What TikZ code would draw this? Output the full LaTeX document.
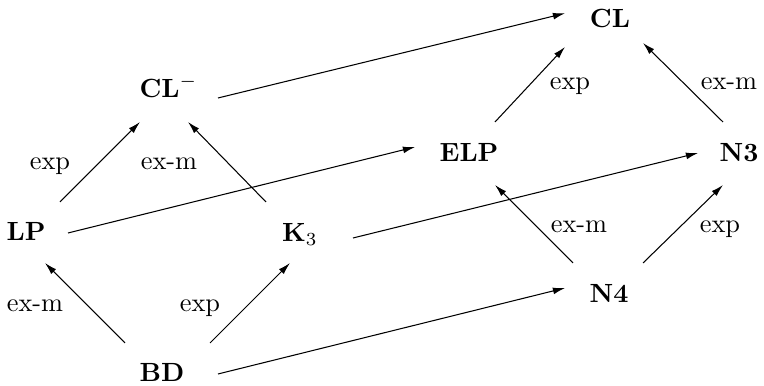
\documentclass[tikz,border=0pt]{standalone}
\usetikzlibrary{arrows.meta}
\begin{document}
\begin{tikzpicture}[x=0.38pt,y=-0.38pt,
  obj/.style={anchor=base,inner sep=0pt,font=\bfseries},
  lab/.style={anchor=base,inner sep=0pt},
  arr/.style={-{Latex[length=4.6pt,width=2.6pt]},line width=0.4pt}]
\useasboundingbox (0,0) rectangle (764,386);
% objects
\node[obj] (CL)  at (610,28)  {CL};
\node[obj] (CLm) at (168.5,98) {$\mathbf{CL}^-$};
\node[obj] (ELP) at (469,162) {ELP};
\node[obj] (N3)  at (739,162) {N3};
\node[obj] (LP)  at (26,241)  {LP};
\node[obj] (K3)  at (300,242) {$\mathbf{K}_3$};
\node[obj] (N4)  at (609,303) {N4};
\node[obj] (BD)  at (162,382) {BD};
% labels
\node[lab] (l1) at (50,170)  {exp};
\node[lab] (l2) at (169,170) {ex-m};
\node[lab] (l3) at (570,90)  {exp};
\node[lab] (l4) at (729,90)  {ex-m};
\node[lab] (l5) at (579,233) {ex-m};
\node[lab] (l6) at (720,233) {exp};
\node[lab] (l7) at (35,312)  {ex-m};
\node[lab] (l8) at (200,312) {exp};
% arrows
\draw[arr] ([shift={(34,-39)}]LP.base) -- ([shift={(-28.5,24)}]CLm.base);
\draw[arr] ([shift={(-34,-40)}]K3.base) -- ([shift={(19.5,24)}]CLm.base);
\draw[arr] ([shift={(49.5,0)}]CLm.base) -- ([shift={(-45,-14.7)}]CL.base);
\draw[arr] ([shift={(42,-8)}]LP.base) -- ([shift={(-54,-15)}]ELP.base);
\draw[arr] ([shift={(26,-40)}]ELP.base) -- ([shift={(-45,19)}]CL.base);
\draw[arr] ([shift={(-16,-40)}]N3.base) -- ([shift={(33,15)}]CL.base);
\draw[arr] ([shift={(53,-4)}]K3.base) -- ([shift={(-41,-9)}]N3.base);
\draw[arr] ([shift={(-36,-40)}]N4.base) -- ([shift={(26,23)}]ELP.base);
\draw[arr] ([shift={(34,-40)}]N4.base) -- ([shift={(-16,23)}]N3.base);
\draw[arr] ([shift={(56,-8)}]BD.base) -- ([shift={(-44,-15)}]N4.base);
\draw[arr] ([shift={(-37,-39)}]BD.base) -- ([shift={(19,22)}]LP.base);
\draw[arr] ([shift={(48,-39)}]BD.base) -- ([shift={(-10,21)}]K3.base);
\end{tikzpicture}
\end{document}
